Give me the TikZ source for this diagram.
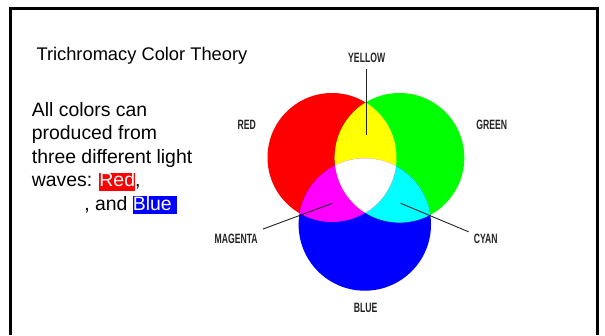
\documentclass[tikz,border=0pt]{standalone}
\usepackage{fontspec}
\setmainfont{Liberation Sans}
\newfontfamily\condfont[FakeStretch=0.64]{Liberation Sans}
\usepackage{xcolor}
\usetikzlibrary{positioning}

\definecolor{pureRed}{RGB}{255,0,0}
\definecolor{pureGreen}{RGB}{0,255,0}
\definecolor{pureBlue}{RGB}{0,0,255}
\definecolor{pureYellow}{RGB}{255,255,0}
\definecolor{pureMagenta}{RGB}{255,0,255}
\definecolor{pureCyan}{RGB}{0,255,255}
\definecolor{lblgray}{RGB}{35,35,35}

% white word on a coloured band
\newcommand{\hlword}[2]{{\setlength{\fboxsep}{0pt}%
  \colorbox{#1}{\rule[-4.2pt]{0pt}{17.6pt}\textcolor{white}{#2}}}}

\newcommand{\radR}{64.5pt}
\newcommand{\radG}{64.8pt}
\newcommand{\radB}{66.2pt}

\begin{document}
\begin{tikzpicture}[x=1pt, y=-1pt,
  lbl/.style={font=\condfont\bfseries\fontsize{13.5}{13.5}\selectfont,
              text=lblgray, inner sep=5pt},
  lead/.style={draw=lblgray, line width=0.9pt},
  body/.style={font=\fontsize{19.4}{23.5}\selectfont, anchor=base west,
               inner sep=0pt},
]
\useasboundingbox (0,0) rectangle (605,335);

%% Frame (open at the bottom)
\draw[black, line width=2.7pt] (10.7,335) -- (10.7,8.7) -- (597.7,8.7) -- (597.7,335);

%% Text on the left
\node[body, font=\fontsize{18.3}{22}\selectfont] (title) at (36.3,60.7) {Trichromacy Color Theory};
\node[body] (l1) at (31.7,116)   {All colors can};
\node[body] (l2) at (31.7,139.5) {produced from};
\node[body] (l3) at (31.7,163)   {three different light};
\node[body] (l4) at (31.7,186.7) {waves: \hlword{pureRed}{Red},};
\node[body] (l5) at (31.7,210)   {\hspace*{52.5pt}, and \hlword{pureBlue}{Blue\ }};

%% Circles
\coordinate (cR) at (332,157.5);
\coordinate (cG) at (399.5,157.8);
\coordinate (cB) at (364.8,224.5);

\fill[pureRed]   (cR) circle[radius=\radR];
\fill[pureGreen] (cG) circle[radius=\radG];
\fill[pureBlue]  (cB) circle[radius=\radB];

% green & blue -> cyan
\begin{scope}
  \clip (cG) circle[radius=\radG];
  \fill[pureCyan] (cB) circle[radius=\radB];
\end{scope}

% red & green -> yellow, red & blue -> magenta, all three -> white
\begin{scope}
  \clip (cR) circle[radius=\radR];
  \fill[pureYellow]  (cG) circle[radius=\radG];
  \fill[pureMagenta] (cB) circle[radius=\radB];
  \clip (cG) circle[radius=\radG];
  \fill[white] (cB) circle[radius=\radB];
\end{scope}

%% Labels
\node[lbl] (Y) at (366.7,57.5) {YELLOW};
\node[lbl] (R) at (246.7,125)  {RED};
\node[lbl] (G) at (491.7,124.7) {GREEN};
\node[lbl] (M) at (236.2,239)  {MAGENTA};
\node[lbl] (C) at (485.7,239)  {CYAN};
\node[lbl] (B) at (365.7,307.7) {BLUE};

%% Leaders
\coordinate (pY) at (366.7,135);
\coordinate (pM) at (332.3,203.3);
\coordinate (pC) at (400.7,203.3);

\draw[lead, shorten <=2pt] (Y) -- (pY);
\draw[lead] (M) -- (pM);
\draw[lead] (C) -- (pC);

\end{tikzpicture}
\end{document}
